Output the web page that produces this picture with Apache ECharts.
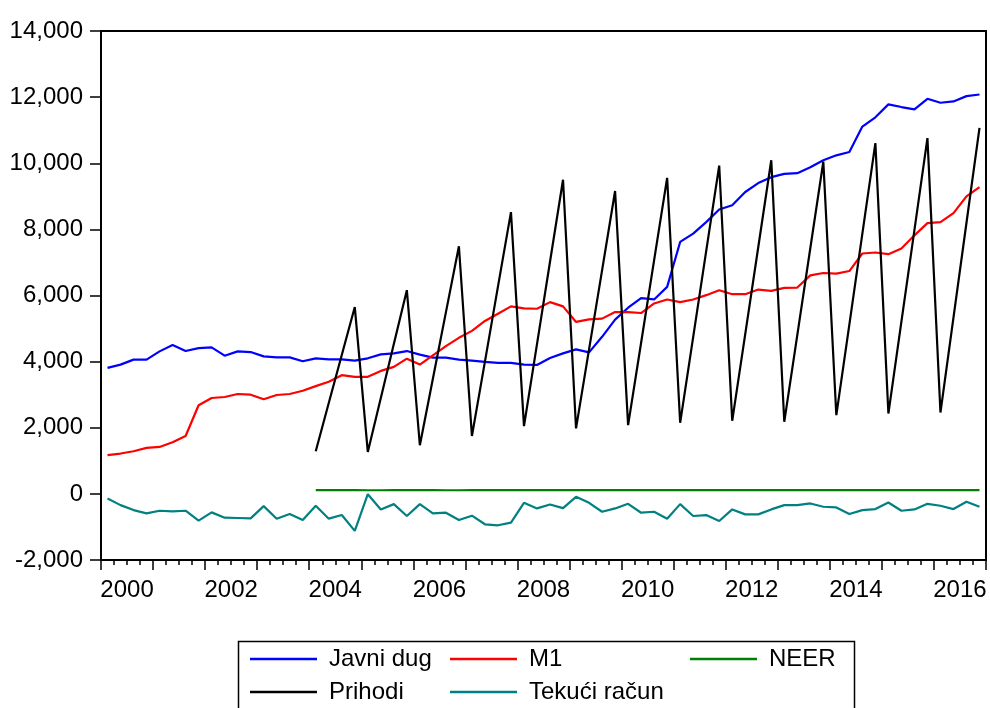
<!DOCTYPE html>
<html>
<head>
<meta charset="utf-8">
<script src="https://cdn.jsdelivr.net/npm/echarts@6/dist/echarts.min.js"></script>
<style>html,body{margin:0;padding:0;background:#fff;}#c{width:990px;height:708px;}</style>
</head>
<body>
<div id="c"></div>
<script>
// ---- data (quarterly, 2000Q1 .. 2016Q4) ----
var years = [2000,2001,2002,2003,2004,2005,2006,2007,2008,2009,2010,2011,2012,2013,2014,2015,2016];
var yearTickLabels = ['2000','2002','2004','2006','2008','2010','2012','2014','2016'];
var quarters = [];
years.forEach(function(y){ ['Q1','Q2','Q3','Q4'].forEach(function(q){ quarters.push(y + q); }); });

var javniDug = [
  3810,3910,4060,4060,4310,4500,4320,4410,4430,4180,4310,4290,4160,4130,4130,4010,
  4100,4070,4070,4030,4100,4220,4250,4320,4210,4120,4120,4060,4030,3990,3960,3960,
  3910,3900,4110,4250,4370,4280,4750,5270,5630,5920,5880,6260,7620,7870,8220,8600,
  8730,9130,9400,9580,9680,9700,9880,10090,10240,10340,11110,11390,11780,11700,11630,11950,
  11830,11870,12030,12080
];
var m1 = [
  1170,1220,1290,1390,1420,1560,1750,2680,2900,2930,3020,3000,2860,2990,3020,3120,
  3260,3390,3590,3540,3540,3720,3840,4090,3910,4190,4470,4720,4930,5230,5450,5670,
  5610,5600,5800,5670,5200,5280,5300,5500,5500,5470,5760,5880,5800,5880,6010,6160,
  6040,6040,6180,6140,6230,6240,6610,6680,6660,6740,7270,7300,7250,7420,7820,8190,
  8220,8490,9000,9280
];
var neer = [
  null,null,null,null,null,null,null,null,null,null,null,null,null,null,null,null,
  112,112,111,111,110,110,111,112,112,111,110,110,111,111,112,112,
  113,113,112,112,111,111,112,112,113,113,112,112,113,113,114,114,
  113,113,112,112,113,113,114,114,113,113,112,112,113,113,114,114,
  113,113,114,114
];
var prihodi = [
  null,null,null,null,null,null,null,null,null,null,null,null,null,null,null,null,
  1290,2750,4200,5650,1270,2900,4530,6160,1470,3480,5490,7490,1750,4000,6270,8520,
  2050,4530,7020,9500,1980,4370,6760,9160,2080,4570,7070,9560,2150,4740,7340,9930,
  2210,4830,7460,10090,2180,4800,7430,10050,2380,5120,7870,10610,2430,5210,7980,10760,
  2460,5330,8200,11070
];
var tekuciRacun = [
  -140,-340,-490,-590,-510,-530,-510,-810,-560,-720,-730,-740,-370,-750,-610,-790,
  -360,-750,-640,-1120,-10,-470,-310,-670,-310,-590,-570,-790,-660,-920,-950,-870,
  -270,-440,-320,-430,-90,-270,-540,-440,-300,-570,-540,-750,-310,-670,-640,-820,
  -470,-620,-620,-470,-340,-340,-290,-390,-410,-610,-490,-460,-260,-510,-470,-300,
  -360,-460,-240,-390
];

var seriesNames = ['Javni dug','M1','NEER','Prihodi','Tekući račun'];
var seriesColors = ['#0000ff','#ff0000','#008000','#000000','#008080'];
var seriesValues = [javniDug, m1, neer, prihodi, tekuciRacun];

function toPoints(arr){
  var out = [];
  for (var i = 0; i < arr.length; i++) {
    if (arr[i] !== null) out.push([i + 0.5, arr[i]]);
  }
  return out;
}

var chart = echarts.init(document.getElementById('c'), null, {renderer:'canvas'});
var FONT = '"Liberation Sans", Arial, sans-serif';

var series = seriesNames.map(function(n, k){
  return {
    name: n, type: 'line', xAxisIndex: 0, yAxisIndex: 0,
    data: toPoints(seriesValues[k]),
    symbol: 'none', showSymbol: false, animation: false,
    lineStyle: {color: seriesColors[k], width: 2.2},
    itemStyle: {color: seriesColors[k]}
  };
});

// legend slot positions: [left, top] for each series name
var legendSlots = [[250,647],[450,647],[690,647],[250,680],[450,680]];
var legends = seriesNames.map(function(n, k){
  return {
    left: legendSlots[k][0], top: legendSlots[k][1],
    orient: 'horizontal', icon: 'rect', itemWidth: 67, itemHeight: 2.5,
    selectedMode: false, padding: 0,
    data: [n],
    textStyle: {fontFamily: FONT, fontSize: 24, color: '#000', padding: [0,0,0,7]}
  };
});

chart.setOption({
  animation: false,
  backgroundColor: '#fff',
  grid: {left: 101, top: 31, width: 885, height: 529, show: true, borderColor: '#000', borderWidth: 2, backgroundColor: 'transparent'},
  xAxis: [
    {
      type: 'value', min: 0, max: quarters.length, interval: 4,
      position: 'bottom',
      axisLine: {show: true, onZero: false, lineStyle: {color: '#000', width: 2}},
      axisTick: {show: true, inside: false, length: 10, lineStyle: {color: '#000', width: 1.5}},
      minorTick: {show: true, splitNumber: 4, length: 5, lineStyle: {color: '#000', width: 1.5}},
      axisLabel: {show: false},
      splitLine: {show: false}
    },
    {
      type: 'value', min: 0, max: quarters.length, interval: 2,
      position: 'bottom',
      axisLine: {show: false}, axisTick: {show: false}, splitLine: {show: false},
      axisLabel: {
        show: true, margin: 18, fontFamily: FONT, fontSize: 24, color: '#000',
        formatter: function(v){
          if ((v - 2) % 8 === 0) { var idx = (v - 2) / 8; return yearTickLabels[idx] || ''; }
          return '';
        }
      }
    }
  ],
  yAxis: {
    type: 'value', min: -2000, max: 14000, interval: 2000,
    axisLine: {show: true, onZero: false, lineStyle: {color: '#000', width: 2}},
    axisTick: {show: true, inside: false, length: 11, lineStyle: {color: '#000', width: 1.5}},
    splitLine: {show: false},
    axisLabel: {
      margin: 18, fontFamily: FONT, fontSize: 24, color: '#000',
      formatter: function(v){ return v.toLocaleString('en-US'); }
    }
  },
  legend: legends,
  graphic: [{
    type: 'rect', left: 236, top: 639, silent: true,
    shape: {width: 616, height: 100},
    style: {fill: 'none', stroke: '#000', lineWidth: 1.5}
  }],
  series: series
});
</script>
</body>
</html>
